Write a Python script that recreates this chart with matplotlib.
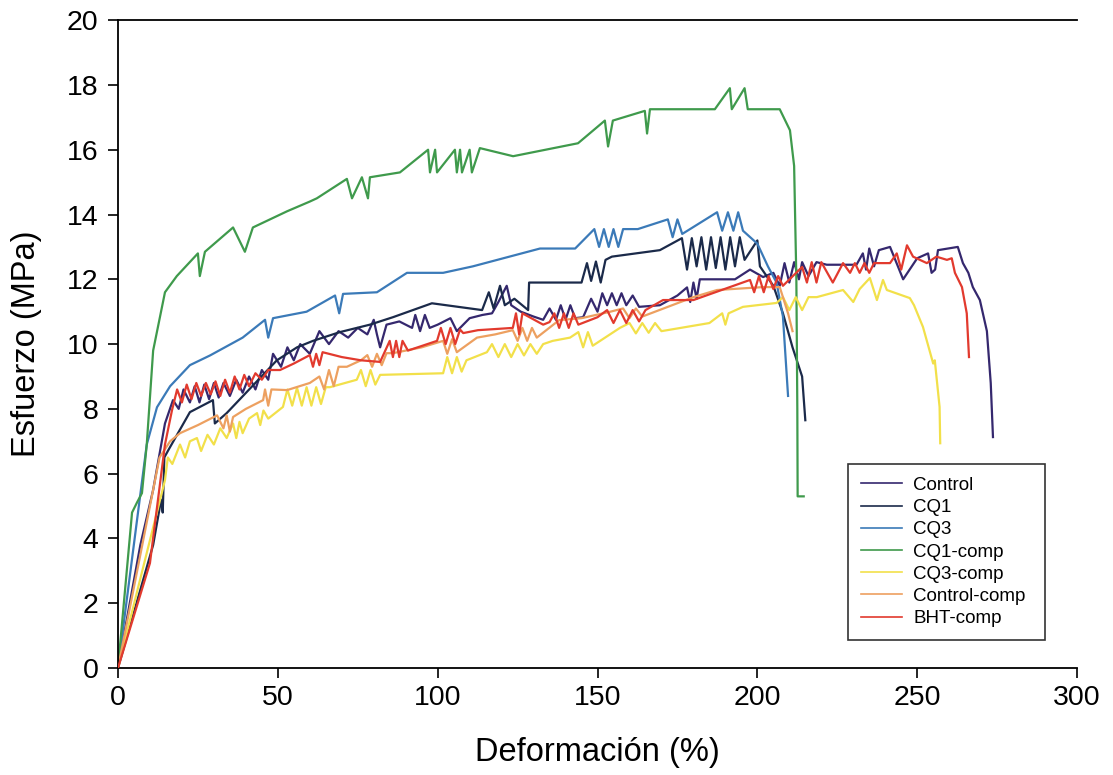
import numpy as np
import matplotlib.pyplot as plt
import matplotlib.ticker as ticker

plt.rcParams['font.family'] = ['Liberation Sans', 'DejaVu Sans']

# ---- data (strain %, stress MPa) ----
control_x = [0, 7, 11, 14.7, 17.2, 19, 20.5, 22.5, 24, 25.5, 27, 28.5, 30, 31.5, 33, 35, 37, 39, 41, 43, 45, 47,
             48.5, 51, 53, 55, 57, 60, 63, 66, 69, 72, 75, 78, 80, 81, 82, 84, 88, 92, 93, 94.5, 96, 97.5, 100, 104,
             106, 110, 114, 117, 119, 121.6, 123, 126, 130, 133, 135, 137, 138.5, 140, 141.5, 143, 145.5, 148, 150,
             151.5, 153, 154.5, 156, 157.5, 159, 161, 163, 169.5, 175, 178, 179, 180, 181, 182, 184, 193, 197.7,
             201.8, 205, 207, 208.5, 210, 211.5, 213, 214, 216, 218.5, 221.7, 231, 233, 234, 235, 236.5, 238,
             241.5, 245.6, 250, 253.4, 254.5, 255.6, 256.5, 262.7, 264.3, 266, 267.4, 269.6, 271.8, 273, 273.7]
control_y = [0, 3.8, 5.5, 7.55, 8.27, 8.0, 8.6, 8.2, 8.7, 8.2, 8.75, 8.3, 8.8, 8.35, 8.8, 8.4, 8.9, 8.5, 9.0, 8.6,
             9.2, 8.9, 9.7, 9.3, 9.9, 9.5, 10.0, 9.7, 10.4, 10.0, 10.4, 10.2, 10.5, 10.3, 10.75, 10.3, 9.9, 10.6,
             10.7, 10.5, 10.9, 10.4, 10.9, 10.5, 10.6, 10.8, 10.4, 10.8, 10.9, 10.95, 11.3, 11.8, 11.2, 11.0,
             10.85, 10.75, 11.1, 10.75, 11.2, 10.75, 11.2, 10.8, 10.83, 11.4, 11.0, 11.57, 11.2, 11.57, 11.2, 11.57,
             11.2, 11.5, 11.15, 11.2, 11.5, 11.75, 11.3, 11.9, 11.4, 12.0, 12.0, 12.0, 12.3, 12.07, 12.2, 11.8,
             12.5, 11.9, 12.53, 12.0, 12.53, 12.1, 12.53, 12.45, 12.45, 12.8, 12.3, 12.95, 12.4, 12.9, 13.0,
             12.0, 12.65, 12.8, 12.2, 12.3, 12.9, 13.0, 12.5, 12.2, 11.76, 11.36, 10.4, 8.8, 7.13]

cq1_x = [0, 11, 13.5, 14, 14.5, 15.6, 22.5, 29.7, 30.3, 34, 42, 49.7, 56, 61, 69.4, 78.8, 86, 98.2, 113.9, 116,
         117.5, 119.5, 121, 124, 128.3, 128.6, 135, 145, 146.7, 148, 149.5, 151, 152.5, 154.5, 169.5, 176.4,
         178, 179.5, 181, 182.5, 184, 185.5, 187, 188.5, 190, 191.5, 193, 194.5, 196, 200, 200.8, 205, 208, 211,
         214, 215]
cq1_y = [0, 3.8, 5.2, 4.8, 6.5, 6.7, 7.9, 8.27, 7.55, 7.87, 8.7, 9.5, 9.9, 10.1, 10.37, 10.6, 10.83, 11.26, 11.05,
         11.6, 11.1, 11.8, 11.2, 11.4, 11.05, 11.9, 11.9, 11.9, 12.5, 11.95, 12.55, 11.9, 12.6, 12.7, 12.9,
         13.27, 12.3, 13.27, 12.4, 13.3, 12.3, 13.3, 12.35, 13.3, 12.3, 13.3, 12.4, 13.3, 12.6, 13.2, 12.4,
         11.8, 10.95, 9.9, 9.0, 7.65]

cq3_x = [0, 9, 12.2, 16.3, 22.5, 28.8, 39, 46, 47, 48.5, 59, 67.9, 69.2, 70.4, 81, 90.4, 101.7, 111, 132, 143,
         149, 150.5, 152, 153.5, 155, 156.5, 158, 162.6, 172, 173.5, 175, 176.5, 187.4, 189, 190.8, 192.5, 194,
         195.5, 200, 203.3, 206, 208, 209.6]
cq3_y = [0, 6.9, 8.05, 8.7, 9.35, 9.65, 10.2, 10.75, 10.2, 10.8, 11.0, 11.5, 10.95, 11.55, 11.6, 12.2, 12.2, 12.4,
         12.95, 12.95, 13.55, 13.0, 13.55, 13.0, 13.55, 13.0, 13.55, 13.55, 13.85, 13.3, 13.85, 13.4, 14.07,
         13.5, 14.07, 13.5, 14.07, 13.5, 13.1, 12.4, 11.9, 10.85, 8.4]

cq1comp_x = [0, 4.4, 5.9, 7.5, 9, 11, 14.7, 18.4, 25, 25.6, 27.2, 36, 39.7, 42.2, 52.9, 60, 62.2, 71.6, 73.2, 76.3,
             78.2, 78.8, 88.2, 97, 97.6, 99.2, 99.8, 105.4, 106, 107, 107.6, 110, 110.7, 113.2, 123.6, 143.9,
             152.3, 153.3, 154.8, 164.8, 165.5, 166.4, 186.7, 191.4, 192, 196, 197, 207, 210.2, 211.5, 212.2,
             212.5, 212.6, 214.5]
cq1comp_y = [0, 4.8, 5.1, 5.4, 6.9, 9.8, 11.6, 12.1, 12.8, 12.1, 12.85, 13.6, 12.85, 13.6, 14.1, 14.4, 14.5, 15.1,
             14.5, 15.15, 14.5, 15.15, 15.3, 16.0, 15.3, 16.0, 15.3, 16.0, 15.3, 16.0, 15.3, 16.0, 15.3, 16.05,
             15.8, 16.2, 16.9, 16.1, 16.9, 17.2, 16.5, 17.25, 17.25, 17.9, 17.25, 17.9, 17.25, 17.25, 16.6, 15.5,
             12.0, 8.0, 5.3, 5.3]

cq3comp_x = [0, 14.7, 15.6, 17, 19.4, 21, 22.5, 24.7, 26, 28, 30, 32, 34, 36, 37, 38, 39, 41, 43.5, 44.5, 45.5,
             47, 51.6, 53, 54.5, 56, 57.5, 59, 60.5, 62, 63.5, 65, 66.3, 74.7, 76, 77.5, 79, 80.5, 82, 101.7, 103,
             104.5, 106, 107.5, 109, 115.4, 117, 119, 121, 123, 125, 127, 129, 131, 133, 136, 141.4, 144, 145.5,
             147, 148.5, 157, 160, 162, 164, 166, 168, 170, 185, 189, 190, 191, 195.5, 206, 208, 210, 212, 214,
             216, 218.6, 226.8, 230, 232, 235.2, 237.4, 239.3, 240.5, 247.7, 249, 251.8, 255, 255.5, 257, 257.2]
cq3comp_y = [0, 5.8, 6.5, 6.3, 6.9, 6.5, 7.0, 7.1, 6.7, 7.2, 6.9, 7.4, 7.1, 7.55, 7.1, 7.6, 7.25, 7.7, 7.87, 7.5,
             7.95, 7.7, 8.06, 8.6, 8.1, 8.65, 8.1, 8.67, 8.1, 8.67, 8.15, 8.67, 8.67, 8.9, 9.2, 8.7, 9.2, 8.75,
             9.05, 9.1, 9.6, 9.1, 9.6, 9.15, 9.5, 9.75, 10.0, 9.6, 10.0, 9.6, 10.0, 9.65, 10.0, 9.7, 10.0, 10.1,
             10.2, 10.37, 9.9, 10.37, 9.95, 10.5, 10.65, 10.33, 10.65, 10.35, 10.65, 10.4, 10.65, 10.95, 10.6,
             10.95, 11.15, 11.27, 11.45, 11.05, 11.45, 11.05, 11.45, 11.45, 11.67, 11.3, 11.7, 12.04, 11.36, 11.98,
             11.67, 11.42, 11.2, 10.53, 9.4, 9.5, 8.06, 6.94]

ctrlcomp_x = [0, 13, 16.3, 19.4, 25, 31, 33, 34, 35, 36, 40, 45.4, 46, 47, 48, 52.9, 60, 63, 64.5, 66, 67.5, 69,
              71.6, 76, 78, 79.5, 81, 82.5, 84, 86, 95, 101.7, 103, 104.5, 106, 112.3, 118, 123.5, 125, 126.5, 128,
              129.5, 131, 138, 145, 154, 158, 160, 162, 164, 180, 187.4, 201.8, 207, 209.6, 211]
ctrlcomp_y = [0, 6.5, 7.0, 7.25, 7.5, 7.8, 7.4, 7.8, 7.3, 7.75, 8.0, 8.27, 8.6, 8.1, 8.6, 8.58, 8.8, 9.0, 8.6, 9.2,
              8.7, 9.3, 9.3, 9.5, 9.66, 9.3, 9.7, 9.35, 9.72, 9.72, 9.9, 10.1, 9.7, 10.15, 9.75, 10.2, 10.3, 10.43,
              10.1, 10.5, 10.1, 10.5, 10.2, 10.74, 10.8, 11.0, 11.1, 10.8, 11.1, 10.85, 11.45, 11.67, 11.76, 11.76,
              10.95, 10.4]

bht_x = [0, 10, 14.7, 16.9, 18.5, 20, 21.5, 23, 24.5, 26, 27.5, 29, 30.5, 32, 33.5, 35, 36.5, 38, 39.5, 41, 43, 45,
         47, 50.7, 55, 60, 61, 62, 63, 64, 70, 76, 82, 85, 86, 87, 88, 89, 90.7, 99.8, 101, 102.5, 104, 105.5, 107,
         108, 112.6, 123.5, 124.5, 125.5, 126.5, 133, 135, 136.5, 138, 139.5, 141, 142.5, 144, 150, 153, 155, 157,
         159, 161, 163, 165, 170.5, 180, 191.4, 197.7, 199, 200.5, 202, 203.5, 205, 206.5, 208, 214, 215.5, 217,
         218.5, 220, 223.6, 226.8, 229, 230.5, 232, 233.5, 235, 236.5, 241.5, 243.6, 245, 246.8, 248.7, 253, 256,
         259.3, 260.8, 261.8, 264, 265.5, 266.2]
bht_y = [0, 3.24, 6.9, 7.96, 8.6, 8.2, 8.75, 8.3, 8.8, 8.4, 8.8, 8.45, 8.85, 8.4, 8.9, 8.5, 9.0, 8.6, 9.05, 8.7, 9.1,
         8.9, 9.2, 9.2, 9.4, 9.66, 9.3, 9.7, 9.35, 9.75, 9.6, 9.5, 9.45, 10.1, 9.6, 10.1, 9.6, 10.1, 9.8, 10.1,
         10.5, 10.0, 10.5, 10.0, 10.45, 10.34, 10.43, 10.5, 10.95, 10.3, 10.95, 10.6, 10.68, 10.95, 10.5, 10.95,
         10.5, 10.95, 10.6, 10.83, 11.05, 10.65, 11.05, 10.65, 11.05, 10.7, 11.05, 11.36, 11.36, 11.76, 11.98,
         11.6, 12.1, 11.6, 12.1, 11.7, 12.1, 11.8, 12.38, 11.9, 12.53, 11.9, 12.53, 11.9, 12.5, 12.2, 12.5, 12.2,
         12.5, 12.2, 12.5, 12.5, 12.8, 12.3, 13.05, 12.7, 12.5, 12.7, 12.6, 12.65, 12.2, 11.76, 10.95, 9.6]

labels = ['Control', 'CQ1', 'CQ3', 'CQ1-comp', 'CQ3-comp', 'Control-comp', 'BHT-comp']
colores = ['#35286e', '#1b2a4a', '#3b7ab8', '#3f9a4c', '#f2e04a', '#eda060', '#e23a2e']
series = [(control_x, control_y), (cq1_x, cq1_y), (cq3_x, cq3_y), (cq1comp_x, cq1comp_y),
          (cq3comp_x, cq3comp_y), (ctrlcomp_x, ctrlcomp_y), (bht_x, bht_y)]
orden = [3, 4, 5, 6, 0, 2, 1]

fig = plt.figure(figsize=(11.13, 7.75), dpi=100)
ax = fig.add_axes([0.106, 0.138, 0.8617, 0.836])

for i in orden:
    xs, ys = series[i]
    ax.plot(xs, ys, color=colores[i], lw=1.6, label=labels[i], zorder=2 + i * 0.1)

ax.set_xlim(0, 300)
ax.set_ylim(0, 20)
ax.xaxis.set_major_locator(ticker.MultipleLocator(50))
ax.yaxis.set_major_locator(ticker.MultipleLocator(2))
ax.tick_params(direction='out', length=7, width=1.2, labelsize=20.5)
ax.tick_params(axis='x', pad=5)
ax.tick_params(axis='y', pad=7)
for s in ['left', 'bottom', 'top']:
    ax.spines[s].set_linewidth(1.3)
ax.spines['right'].set_visible(False)

ax.set_xlabel('Deformación (%)', fontsize=23.5, labelpad=19)
ax.set_ylabel('Esfuerzo (MPa)', fontsize=23.5, labelpad=18)

h, l = ax.get_legend_handles_labels()
hd = dict(zip(l, h))
leg = ax.legend([hd[k] for k in labels], labels, loc='lower left', bbox_to_anchor=(0.761, 0.043, 0.206, 0.273),
                mode='expand', borderaxespad=0, fontsize=13.5, frameon=True, fancybox=False, edgecolor='black',
                handlelength=2.2, handletextpad=0.6, labelspacing=0.27, borderpad=0.7)
leg.get_frame().set_linewidth(1.2)
for ln in leg.get_lines():
    ln.set_linewidth(1.2)

fig.savefig('out.png', dpi=100)
